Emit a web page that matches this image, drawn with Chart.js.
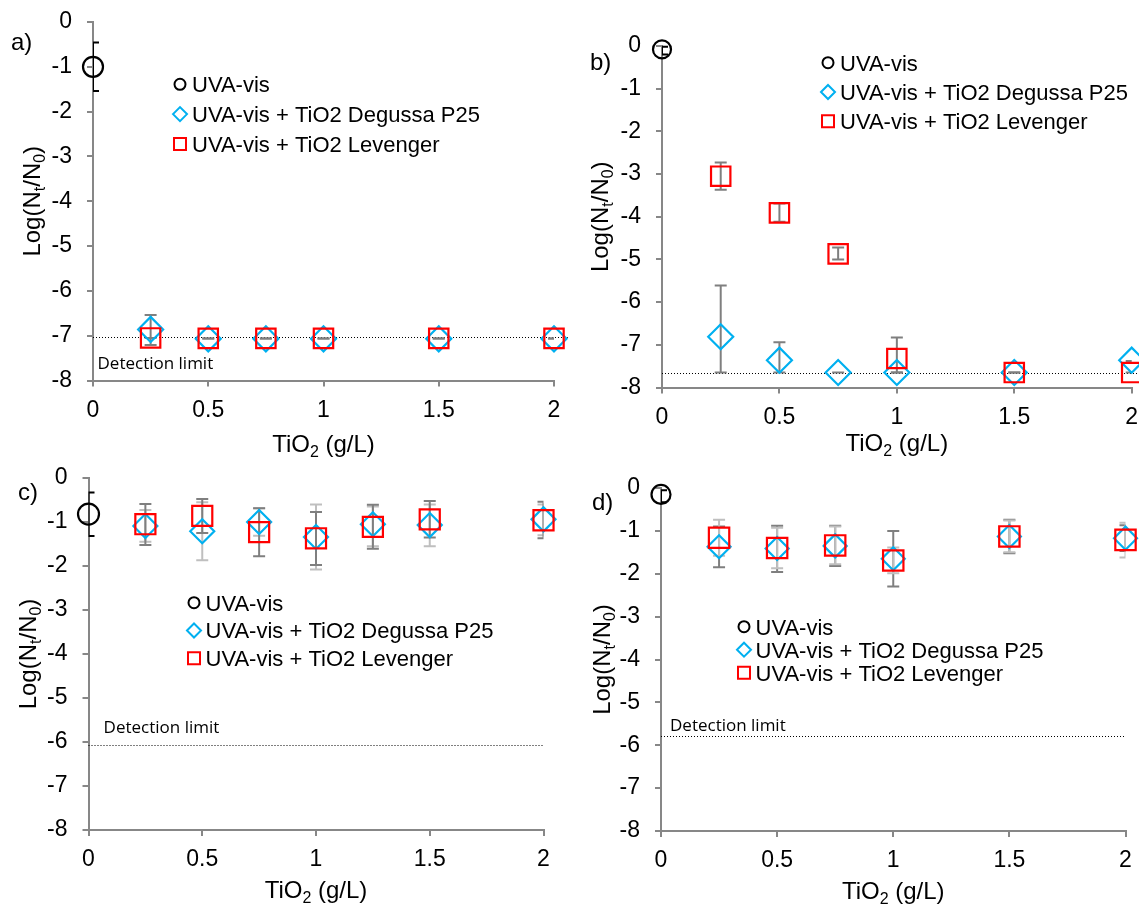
<!DOCTYPE html>
<html>
<head>
<meta charset="utf-8">
<script src="https://cdn.jsdelivr.net/npm/chart.js@4.4.1/dist/chart.umd.min.js"></script>
<style>
  html, body { margin: 0; padding: 0; background: #fff; }
  #wrap { position: relative; width: 1139px; height: 904px; overflow: hidden; }
  #wrap canvas { position: absolute; left: 0; top: 0; }
</style>
</head>
<body>
<div id="wrap">
  <canvas id="chartA" width="1139" height="904"></canvas>
  <canvas id="chartB" width="1139" height="904"></canvas>
  <canvas id="chartC" width="1139" height="904"></canvas>
  <canvas id="chartD" width="1139" height="904"></canvas>
</div>
<script>
// tick labels and series names
const xTicks = [0, 0.5, 1, 1.5, 2];
const yTicks = [0, -1, -2, -3, -4, -5, -6, -7, -8];
const seriesNames = ['UVA-vis', 'UVA-vis + TiO2 Degussa P25', 'UVA-vis + TiO2 Levenger'];
const detectionLimits = [-7.03, -7.65, -6.07, -5.78];

// a)
const aUvaX = [0];
const aUvaY = [-1.0];
const aUvaErr = [[-1.54, -0.46]];
const aDegX = [0.25, 0.5, 0.75, 1, 1.5, 2];
const aDegY = [-6.86, -7.07, -7.07, -7.07, -7.07, -7.07];
const aDegErr = [[-7.21, -6.54], [-7.06, -7.06], [-7.06, -7.06], [-7.06, -7.06], [-7.06, -7.06], [-7.06, -7.06]];
const aLevX = [0.25, 0.5, 0.75, 1, 1.5, 2];
const aLevY = [-7.05, -7.06, -7.06, -7.06, -7.06, -7.06];
const aLevErr = [[-7.05, -7.05], [-7.06, -7.06], [-7.06, -7.06], [-7.06, -7.06], [-7.06, -7.06], [-7.06, -7.06]];

// b)
const bUvaX = [0];
const bUvaY = [-0.08];
const bUvaErr = [[-0.2, -0.02]];
const bDegX = [0.25, 0.5, 0.75, 1, 1.5, 2];
const bDegY = [-6.81, -7.36, -7.65, -7.65, -7.65, -7.36];
const bDegErr = [[-7.65, -5.61], [-7.65, -6.94], [-7.65, -7.65], [-7.65, -7.65], [-7.65, -7.65], [-7.38, -7.38]];
const bLevX = [0.25, 0.5, 0.75, 1, 1.5, 2];
const bLevY = [-3.05, -3.91, -4.87, -7.32, -7.65, -7.65];
const bLevErr = [[-3.37, -2.73], [-4.12, -3.69], [-5.0, -4.72], [-7.65, -6.83], [-7.65, -7.65], [-7.65, -7.65]];

// c)
const cUvaX = [0];
const cUvaY = [-0.82];
const cUvaErr = [[-1.32, -0.33]];
const cDegX = [0.25, 0.5, 0.75, 1, 1.25, 1.5, 2];
const cDegY = [-1.09, -1.21, -1.0, -1.34, -1.05, -1.07, -0.94];
const cDegErr = [[-1.45, -0.73], [-1.87, -0.55], [-1.31, -0.69], [-2.08, -0.6], [-1.55, -0.65], [-1.55, -0.6], [-1.3, -0.6]];
const cLevX = [0.25, 0.5, 0.75, 1, 1.25, 1.5, 2];
const cLevY = [-1.05, -0.86, -1.23, -1.37, -1.11, -0.94, -0.96];
const cLevErr = [[-1.52, -0.59], [-1.25, -0.48], [-1.78, -0.69], [-1.98, -0.77], [-1.61, -0.61], [-1.35, -0.52], [-1.37, -0.54]];

// d)
const dUvaX = [0];
const dUvaY = [-0.15];
const dUvaErr = [[-0.33, -0.05]];
const dDegX = [0.25, 0.5, 0.75, 1, 1.5, 2];
const dDegY = [-1.37, -1.41, -1.35, -1.65, -1.13, -1.17];
const dDegErr = [[-1.85, -0.9], [-1.96, -0.88], [-1.82, -0.88], [-2.3, -1.0], [-1.52, -0.74], [-1.47, -0.87]];
const dLevX = [0.25, 0.5, 0.75, 1, 1.5, 2];
const dLevY = [-1.16, -1.4, -1.34, -1.69, -1.13, -1.21];
const dLevErr = [[-1.58, -0.74], [-1.87, -0.93], [-1.78, -0.9], [-1.99, -1.39], [-1.5, -0.76], [-1.62, -0.81]];

const FONT = '"Liberation Sans", Arial, sans-serif';
const AXIS = '#878787';
const DARK = '#7f7f7f';
const LIGHT = '#bfbfbf';
const BLUE = '#00b0f0';
const RED = '#ff0000';
const W = 1139, H = 904, YW = 60, XH = 40;

// panel layouts (pixels)
const panels = [
  { id: 'chartA', letter: 'a)', lx: 11, ly: 43, area: { left: 93, right: 554, top: 22, bottom: 380.5 },
    legend: { mx: 180, tx: 192, y: 84.3, dy: 29.8 }, det: detectionLimits[0], detEnd: 2.06, detText: { x: 97.5, y: 364 },
    xTitleY: 443, yTitleX: 31, r: [10, 12.5, 13.7],
    uva: [aUvaX, aUvaY, aUvaErr], deg: [aDegX, aDegY, aDegErr, DARK], lev: [aLevX, aLevY, aLevErr, DARK] },
  { id: 'chartB', letter: 'b)', lx: 590, ly: 63, area: { left: 662, right: 1131.7, top: 46, bottom: 387.5 },
    legend: { mx: 828, tx: 840, y: 62.7, dy: 29.3 }, det: detectionLimits[1], detEnd: 2.1, detText: null,
    xTitleY: 442, yTitleX: 599, r: [9, 12.5, 13.7],
    uva: [bUvaX, bUvaY, bUvaErr], deg: [bDegX, bDegY, bDegErr, DARK], lev: [bLevX, bLevY, bLevErr, DARK] },
  { id: 'chartC', letter: 'c)', lx: 18, ly: 493, area: { left: 88.5, right: 543.5, top: 478, bottom: 830 },
    legend: { mx: 194, tx: 205.5, y: 602.7, dy: 27.8 }, det: detectionLimits[2], detEnd: 2, detText: { x: 103.6, y: 728.3 },
    xTitleY: 889, yTitleX: 27, r: [10.5, 12, 14.2],
    uva: [cUvaX, cUvaY, cUvaErr], deg: [cDegX, cDegY, cDegErr, LIGHT], lev: [cLevX, cLevY, cLevErr, DARK] },
  { id: 'chartD', letter: 'd)', lx: 592, ly: 503, area: { left: 661, right: 1125.5, top: 488, bottom: 831 },
    legend: { mx: 744, tx: 755.5, y: 626.7, dy: 23 }, det: detectionLimits[3], detEnd: 2, detText: { x: 670, y: 726 },
    xTitleY: 890, yTitleX: 601, r: [9.5, 11.5, 14.4],
    uva: [dUvaX, dUvaY, dUvaErr], deg: [dDegX, dDegY, dDegErr, DARK], lev: [dLevX, dLevY, dLevErr, LIGHT] }
];

function drawRich(ctx, parts, x, y, size, rotate) {
  const big = size + 'px ' + FONT;
  const small = Math.round(size * 0.65) + 'px ' + FONT;
  ctx.save();
  ctx.translate(x, y);
  if (rotate) ctx.rotate(-Math.PI / 2);
  ctx.fillStyle = '#000';
  ctx.textBaseline = 'alphabetic';
  ctx.textAlign = 'left';
  let w = 0;
  parts.forEach(p => { ctx.font = p.sub ? small : big; w += ctx.measureText(p.t).width; });
  let cx = -w / 2;
  parts.forEach(p => {
    ctx.font = p.sub ? small : big;
    ctx.fillText(p.t, cx, size * 0.36 + (p.sub ? size * 0.22 : 0));
    cx += ctx.measureText(p.t).width;
  });
  ctx.restore();
}

function marker(ctx, style, x, y, r, color) {
  ctx.save();
  ctx.strokeStyle = color;
  ctx.lineWidth = 2;
  ctx.beginPath();
  if (style === 'circle') ctx.arc(x, y, r, 0, Math.PI * 2);
  else if (style === 'rectRot') { ctx.moveTo(x - r, y); ctx.lineTo(x, y - r); ctx.lineTo(x + r, y); ctx.lineTo(x, y + r); ctx.closePath(); }
  else ctx.rect(x - r, y - r, 2 * r, 2 * r);
  ctx.stroke();
  ctx.restore();
}

const decor = {
  id: 'decor',
  beforeDatasetsDraw(chart, args, o) {
    const ctx = chart.ctx, xs = chart.scales.x, ys = chart.scales.y, a = chart.chartArea;
    // detection limit line
    ctx.save();
    ctx.strokeStyle = '#000';
    ctx.lineWidth = 1;
    ctx.setLineDash([1, 2]);
    ctx.beginPath();
    const dy = Math.round(ys.getPixelForValue(o.det)) + 0.5;
    ctx.moveTo(xs.getPixelForValue(0), dy);
    ctx.lineTo(xs.getPixelForValue(o.detEnd), dy);
    ctx.stroke();
    ctx.restore();
    // error bars, clipped to the plot area
    ctx.save();
    ctx.beginPath();
    ctx.rect(a.left, a.top - 1, a.right - a.left, a.bottom - a.top + 2);
    ctx.clip();
    chart.data.datasets.forEach(ds => {
      ctx.strokeStyle = ds.errColor;
      ctx.lineWidth = 2;
      ds.data.forEach((p, i) => {
        const e = ds.errBars[i];
        const px = xs.getPixelForValue(p.x);
        const lo = ys.getPixelForValue(e[0]), hi = ys.getPixelForValue(e[1]);
        ctx.beginPath();
        ctx.moveTo(px, lo); ctx.lineTo(px, hi);
        ctx.moveTo(px - 6, lo); ctx.lineTo(px + 6, lo);
        ctx.moveTo(px - 6, hi); ctx.lineTo(px + 6, hi);
        ctx.stroke();
      });
    });
    ctx.restore();
  },
  afterDraw(chart, args, o) {
    const ctx = chart.ctx, a = chart.chartArea;
    // panel letter
    ctx.save();
    ctx.fillStyle = '#000';
    ctx.font = '24px ' + FONT;
    ctx.textBaseline = 'middle';
    ctx.fillText(o.letter, o.lx, o.ly);
    // legend
    const styles = ['circle', 'rectRot', 'rect'];
    const colors = ['#000', BLUE, RED];
    const sizes = [5.5, 7, 6];
    ctx.font = '22px ' + FONT;
    ctx.textBaseline = 'alphabetic';
    seriesNames.forEach((n, i) => {
      const y = o.legend.y + i * o.legend.dy;
      marker(ctx, styles[i], o.legend.mx, y, sizes[i], colors[i]);
      ctx.fillText(n, o.legend.tx, y + 22 * 0.36);
    });
    // detection label
    if (o.detText) {
      ctx.font = '17px "Open Sans", sans-serif';
      ctx.textBaseline = 'middle';
      ctx.fillText('Detection limit', o.detText.x, o.detText.y);
    }
    ctx.restore();
    // axis titles
    drawRich(ctx, [{ t: 'TiO' }, { t: '2', sub: true }, { t: ' (g/L)' }], (a.left + a.right) / 2, o.xTitleY, 24, false);
    drawRich(ctx, [{ t: 'Log(N' }, { t: 't', sub: true }, { t: '/N' }, { t: '0', sub: true }, { t: ')' }], o.yTitleX, (a.top + a.bottom) / 2, 24, true);
  }
};

function points(xs, ys) { return xs.map((x, i) => ({ x: x, y: ys[i] })); }

function series(label, src, style, color, r, order) {
  return {
    label: label,
    data: points(src[0], src[1]),
    errBars: src[2],
    errColor: src[3] || '#000',
    showLine: false,
    clip: false,
    order: order,
    pointStyle: style,
    pointRadius: r,
    pointHoverRadius: r,
    pointBorderWidth: 2.2,
    pointBorderColor: color,
    pointBackgroundColor: 'rgba(0,0,0,0)',
    borderColor: color,
    backgroundColor: 'rgba(0,0,0,0)'
  };
}

panels.forEach(p => {
  const ctx = document.getElementById(p.id).getContext('2d');
  new Chart(ctx, {
    type: 'scatter',
    data: {
      datasets: [
        series(seriesNames[0], p.uva, 'circle', '#000', p.r[0], 3),
        series(seriesNames[1], p.deg, 'rectRot', BLUE, p.r[1], 2),
        series(seriesNames[2], p.lev, 'rect', RED, p.r[2], 1)
      ]
    },
    options: {
      responsive: false,
      animation: false,
      events: [],
      layout: {
        autoPadding: false,
        padding: {
          left: p.area.left - YW,
          right: W - p.area.right,
          top: p.area.top,
          bottom: H - p.area.bottom - XH
        }
      },
      plugins: {
        legend: { display: false },
        tooltip: { enabled: false },
        decor: p
      },
      scales: {
        x: {
          type: 'linear',
          min: 0,
          max: 2,
          afterBuildTicks: s => { s.ticks = xTicks.map(v => ({ value: v })); },
          afterFit: s => { s.height = XH; s.paddingLeft = 0; s.paddingRight = 0; },
          grid: { drawOnChartArea: false, drawTicks: true, tickLength: 6, color: AXIS, lineWidth: 2 },
          border: { display: true, color: AXIS, width: 2 },
          ticks: { color: '#000', font: { family: FONT, size: 23 }, padding: 10, maxRotation: 0, autoSkip: false, callback: v => String(v) }
        },
        y: {
          type: 'linear',
          min: -8,
          max: 0,
          afterBuildTicks: s => { s.ticks = yTicks.map(v => ({ value: v })); },
          afterFit: s => { s.width = YW; s.paddingTop = 0; s.paddingBottom = 0; },
          grid: { drawOnChartArea: false, drawTicks: true, tickLength: 6, color: AXIS, lineWidth: 2 },
          border: { display: true, color: AXIS, width: 2 },
          ticks: { color: '#000', font: { family: FONT, size: 23 }, padding: 15, autoSkip: false, callback: v => String(v) }
        }
      }
    },
    plugins: [decor]
  });
});
</script>
</body>
</html>
